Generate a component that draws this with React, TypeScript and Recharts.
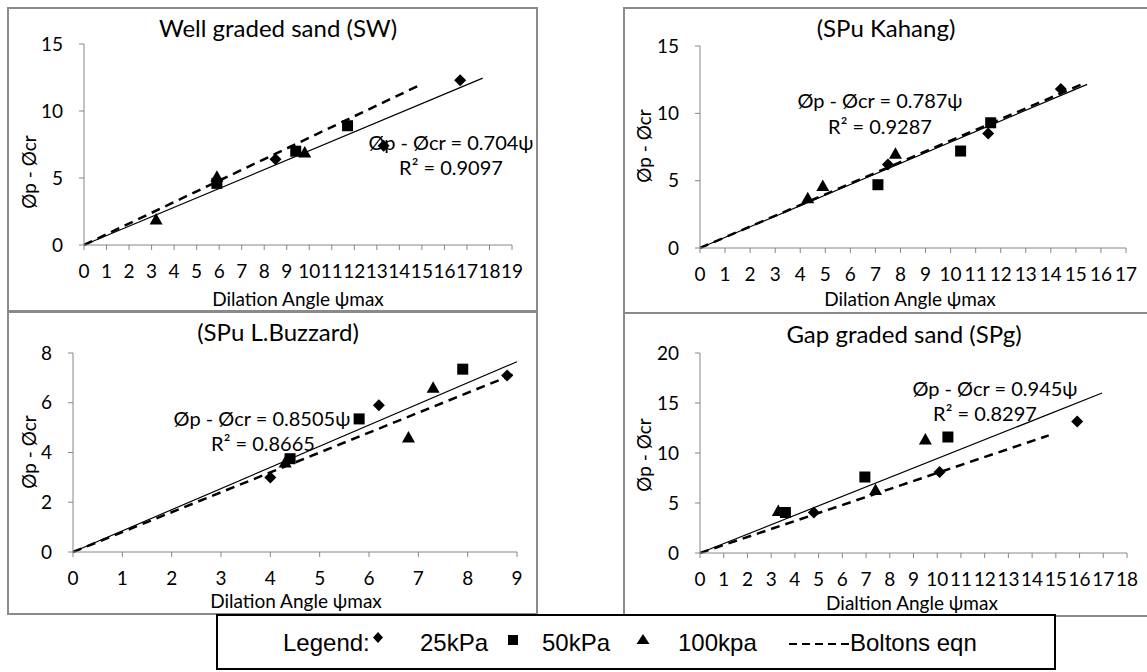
import React from "react";
import { ComposedChart, Scatter, Line, XAxis, YAxis } from "recharts";

// ---- data (psi_max, phi_p - phi_cr) ----
const SW_25 = [[8.5, 6.4], [13.3, 7.4], [16.7, 12.3]];
const SW_50 = [[5.9, 4.6], [9.4, 7.0], [11.7, 8.9]];
const SW_100 = [[3.2, 1.9], [5.9, 5.1], [9.8, 6.9]];
const SW_FIT = [[0, 0], [17.7, 12.45]];
const SW_BOLTON = [[0, 0], [14.8, 11.85]];

const KA_25 = [[7.5, 6.2], [11.5, 8.5], [14.4, 11.8]];
const KA_50 = [[7.1, 4.7], [10.4, 7.2], [11.6, 9.3]];
const KA_100 = [[4.3, 3.7], [4.9, 4.6], [7.8, 7.0]];
const KA_FIT = [[0, 0], [15.45, 12.15]];
const KA_BOLTON = [[0, 0], [15.3, 12.2]];

const LB_25 = [[4.0, 3.0], [6.2, 5.9], [8.8, 7.1]];
const LB_50 = [[4.4, 3.75], [5.8, 5.35], [7.9, 7.35]];
const LB_100 = [[4.3, 3.6], [6.8, 4.6], [7.3, 6.6]];
const LB_FIT = [[0, 0], [9, 7.65]];
const LB_BOLTON = [[0, 0], [9, 7.2]];

const GG_25 = [[4.8, 4.05], [10.1, 8.1], [15.9, 13.15]];
const GG_50 = [[3.6, 4.05], [6.95, 7.6], [10.45, 11.6]];
const GG_100 = [[3.3, 4.2], [7.4, 6.3], [9.5, 11.35]];
const GG_FIT = [[0, 0], [16.95, 16.0]];
const GG_BOLTON = [[0, 0], [14.7, 11.76]];

const TICKS_19 = [0, 1, 2, 3, 4, 5, 6, 7, 8, 9, 10, 11, 12, 13, 14, 15, 16, 17, 18, 19];
const TICKS_17 = [0, 1, 2, 3, 4, 5, 6, 7, 8, 9, 10, 11, 12, 13, 14, 15, 16, 17];
const TICKS_9 = [0, 1, 2, 3, 4, 5, 6, 7, 8, 9];
const TICKS_18 = [0, 1, 2, 3, 4, 5, 6, 7, 8, 9, 10, 11, 12, 13, 14, 15, 16, 17, 18];
const Y_TICKS_15 = [0, 5, 10, 15];
const Y_TICKS_8 = [0, 2, 4, 6, 8];
const Y_TICKS_20 = [0, 5, 10, 15, 20];

const FONT = "Lato, 'Open Sans', sans-serif";
const LEGEND_FONT = "'Liberation Sans', Arial, sans-serif";
const AXIS = "#868686";
const BORDER = "#8a8a8a";

const pts = (a: number[][]) => a.map(([x, y]) => ({ x, y }));

const Diamond = (p: any) => (
  <path
    d={`M${p.cx},${p.cy - 6}L${p.cx + 6},${p.cy}L${p.cx},${p.cy + 6}L${p.cx - 6},${p.cy}Z`}
    fill="#000"
  />
);
const Square = (p: any) => (
  <rect x={p.cx - 5.5} y={p.cy - 5.5} width={11} height={11} fill="#000" />
);
const Triangle = (p: any) => (
  <path
    d={`M${p.cx},${p.cy - 6.5}L${p.cx + 6.5},${p.cy + 5}L${p.cx - 6.5},${p.cy + 5}Z`}
    fill="#000"
  />
);

type Box = { x: number; y: number; w: number; h: number };
type Plot = { x0: number; x1: number; top: number; bottom: number };

interface PanelProps {
  box: Box;
  plot: Plot;
  xMax: number;
  yMax: number;
  xTicks: number[];
  yTicks: number[];
  s25: number[][];
  s50: number[][];
  s100: number[][];
  fit: number[][];
  bolton: number[][];
}

function Panel({ box, plot, xMax, yMax, xTicks, yTicks, s25, s50, s100, fit, bolton }: PanelProps) {
  const margin = {
    top: plot.top - box.y,
    left: plot.x0 - box.x - 1,
    right: box.x + box.w - plot.x1,
    bottom: box.y + box.h - plot.bottom - 1,
  };
  const tick = { fill: "#000", fontSize: 19, fontFamily: FONT };
  return (
    <div style={{ position: "absolute", left: box.x, top: box.y }}>
      <ComposedChart width={box.w} height={box.h} margin={margin}>
        <XAxis
          type="number"
          dataKey="x"
          domain={[0, xMax]}
          ticks={xTicks}
          interval={0}
          height={1}
          tick={tick}
          tickSize={5}
          tickMargin={15}
          axisLine={{ stroke: AXIS }}
          tickLine={{ stroke: AXIS }}
        />
        <YAxis
          type="number"
          dataKey="y"
          domain={[0, yMax]}
          ticks={yTicks}
          interval={0}
          width={1}
          tick={tick}
          tickSize={5}
          tickMargin={16}
          axisLine={{ stroke: AXIS }}
          tickLine={{ stroke: AXIS }}
        />
        <Line data={pts(fit)} dataKey="y" stroke="#000" strokeWidth={1.2} dot={false} isAnimationActive={false} />
        <Line
          data={pts(bolton)}
          dataKey="y"
          stroke="#000"
          strokeWidth={2.5}
          strokeDasharray="9 6"
          dot={false}
          isAnimationActive={false}
        />
        <Scatter data={pts(s25)} dataKey="y" shape={Diamond} isAnimationActive={false} />
        <Scatter data={pts(s100)} dataKey="y" shape={Triangle} isAnimationActive={false} />
        <Scatter data={pts(s50)} dataKey="y" shape={Square} isAnimationActive={false} />
      </ComposedChart>
    </div>
  );
}

function Frame({ box }: { box: Box }) {
  return (
    <div
      style={{
        position: "absolute",
        left: box.x,
        top: box.y,
        width: box.w,
        height: box.h,
        border: `2.5px solid ${BORDER}`,
        boxSizing: "border-box",
      }}
    />
  );
}

function T({ x, y, size, children, rotate, font }: any) {
  return (
    <div
      style={{
        position: "absolute",
        left: x,
        top: y,
        transform: `translate(-50%, -50%)${rotate ? " rotate(-90deg)" : ""}`,
        fontFamily: font || FONT,
        fontSize: size,
        lineHeight: 1,
        whiteSpace: "nowrap",
        color: "#000",
      }}
    >
      {children}
    </div>
  );
}

function L({ x, children }: any) {
  return (
    <div
      style={{
        position: "absolute",
        left: x,
        top: 631,
        fontFamily: LEGEND_FONT,
        fontSize: 24,
        lineHeight: 1,
        whiteSpace: "nowrap",
        color: "#000",
      }}
    >
      {children}
    </div>
  );
}

const YLABEL = "Øp - Øcr";

export default function App() {
  const b1 = { x: 7, y: 7, w: 531, h: 306 };
  const b2 = { x: 623, y: 7, w: 540, h: 307 };
  const b3 = { x: 7, y: 310, w: 531, h: 305 };
  const b4 = { x: 623, y: 312, w: 540, h: 305 };
  return (
    <div
      style={{
        position: "absolute",
        left: 0,
        top: 0,
        width: 1147,
        height: 672,
        overflow: "hidden",
        background: "#fff",
      }}
    >
      <Frame box={b1} />
      <Frame box={b2} />
      <Frame box={b3} />
      <Frame box={b4} />

      <Panel box={b1} plot={{ x0: 84, x1: 512, top: 44, bottom: 245 }} xMax={19} yMax={15}
        xTicks={TICKS_19} yTicks={Y_TICKS_15} s25={SW_25} s50={SW_50} s100={SW_100} fit={SW_FIT} bolton={SW_BOLTON} />
      <Panel box={b2} plot={{ x0: 700, x1: 1126, top: 46, bottom: 248 }} xMax={17} yMax={15}
        xTicks={TICKS_17} yTicks={Y_TICKS_15} s25={KA_25} s50={KA_50} s100={KA_100} fit={KA_FIT} bolton={KA_BOLTON} />
      <Panel box={b3} plot={{ x0: 73, x1: 517, top: 353, bottom: 552 }} xMax={9} yMax={8}
        xTicks={TICKS_9} yTicks={Y_TICKS_8} s25={LB_25} s50={LB_50} s100={LB_100} fit={LB_FIT} bolton={LB_BOLTON} />
      <Panel box={b4} plot={{ x0: 700, x1: 1127, top: 353, bottom: 553 }} xMax={18} yMax={20}
        xTicks={TICKS_18} yTicks={Y_TICKS_20} s25={GG_25} s50={GG_50} s100={GG_100} fit={GG_FIT} bolton={GG_BOLTON} />

      {/* titles */}
      <T x={278} y={28} size={24}>Well graded sand (SW)</T>
      <T x={886} y={28} size={24}>(SPu Kahang)</T>
      <T x={278} y={332} size={24}>(SPu L.Buzzard)</T>
      <T x={904} y={334} size={24}>Gap graded sand (SPg)</T>

      {/* axis titles */}
      <T x={28} y={172} size={19} rotate>{YLABEL}</T>
      <T x={643} y={146} size={19} rotate>{YLABEL}</T>
      <T x={28} y={452} size={19} rotate>{YLABEL}</T>
      <T x={643} y={455} size={19} rotate>{YLABEL}</T>
      <T x={298} y={298} size={19}>Dilation Angle ψmax</T>
      <T x={910} y={298} size={19}>Dilation Angle ψmax</T>
      <T x={296} y={600} size={19}>Dilation Angle ψmax</T>
      <T x={912} y={602} size={19}>Dialtion Angle ψmax</T>

      {/* regression equations */}
      <T x={451} y={142} size={20}>Øp - Øcr = 0.704ψ</T>
      <T x={451} y={167} size={20}>R² = 0.9097</T>
      <T x={880} y={100} size={20}>Øp - Øcr = 0.787ψ</T>
      <T x={880} y={126} size={20}>R² = 0.9287</T>
      <T x={262} y={418} size={20}>Øp - Øcr = 0.8505ψ</T>
      <T x={263} y={443} size={20}>R² = 0.8665</T>
      <T x={995} y={388} size={20}>Øp - Øcr = 0.945ψ</T>
      <T x={985} y={413} size={20}>R² = 0.8297</T>

      {/* legend */}
      <div
        style={{
          position: "absolute",
          left: 216,
          top: 614,
          width: 840,
          height: 56,
          border: "2px solid #000",
          boxSizing: "border-box",
          background: "#fff",
        }}
      />
      <svg style={{ position: "absolute", left: 0, top: 600 }} width={1147} height={72}>
        <path d="M378,32L383,37.5L378,43L373,37.5Z" fill="#000" />
        <rect x={508} y={35} width={10} height={10} fill="#000" />
        <path d="M643,34L649.5,44L636.5,44Z" fill="#000" />
        <line x1={789} y1={44} x2={849} y2={44} stroke="#000" strokeWidth={2} strokeDasharray="8 5" />
      </svg>
      <L x={283}>Legend:</L>
      <L x={420}>25kPa</L>
      <L x={542}>50kPa</L>
      <L x={678}>100kpa</L>
      <L x={850}>Boltons eqn</L>
    </div>
  );
}
